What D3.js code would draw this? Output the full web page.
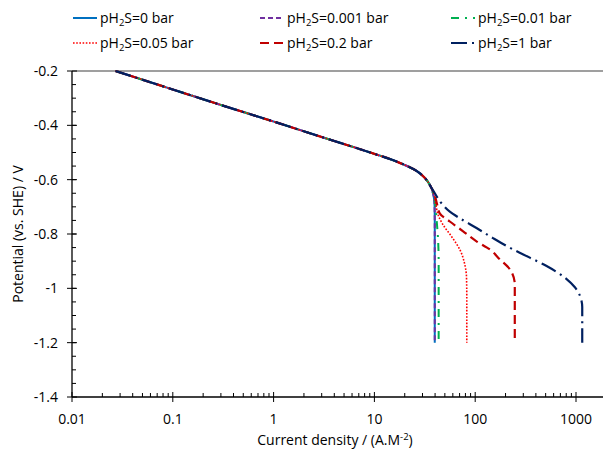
<!DOCTYPE html>
<html>
<head>
<meta charset="utf-8">
<script src="https://cdn.jsdelivr.net/npm/d3@7"></script>
<style>
    body { margin: 0; background: #ffffff; }
    svg { display: block; font-family: "Open Sans", sans-serif; }
</style>
</head>
<body>
<div id="page"></div>
<script>
// cons
const w = 603;
const h = 449;

// axis ticks
const x_ticks = [0.01, 0.1, 1, 10, 100, 1000];
const x_tick_labels = ["0.01", "0.1", "1", "10", "100", "1000"];
const y_ticks = [-1.4, -1.2, -1, -0.8, -0.6, -0.4, -0.2];
const y_tick_labels = ["-1.4", "-1.2", "-1", "-0.8", "-0.6", "-0.4", "-0.2"];

// common tafel part [current density, potential]
const shared_part = [
    [0.027, -0.2], [0.1, -0.268], [0.3, -0.325], [1, -0.386], [3, -0.443],
    [10, -0.505], [15, -0.527], [20, -0.546], [26, -0.567], [31, -0.59],
    [34, -0.608], [36.5, -0.628]
];

// branches below the tafel part
const tail_0 = [[38.5, -0.657], [39.5, -0.69], [39.7, -0.75], [39.7, -1.2]];
const tail_0001 = [[38.5, -0.657], [39.5, -0.69], [39.7, -0.75], [39.7, -1.2]];
const tail_001 = [[38.6, -0.655], [40.2, -0.69], [41.3, -0.742], [42.9, -0.827], [43.4, -0.9], [43.4, -1.2]];
const tail_005 = [
    [38.8, -0.65], [40.5, -0.687], [42.9, -0.73], [48, -0.766], [58.2, -0.809],
    [70.3, -0.857], [78.8, -0.912], [82, -0.96], [82.5, -1.03], [82.5, -1.2]
];
const tail_02 = [
    [38.9, -0.648], [41.5, -0.685], [44.5, -0.724], [56, -0.754], [75.9, -0.79],
    [103, -0.827], [140, -0.857], [175, -0.893], [221, -0.93], [247, -0.985], [247, -1.2]
];
const tail_1 = [
    [39, -0.645], [46.3, -0.687], [56, -0.718], [70.3, -0.742], [103, -0.778],
    [150, -0.815], [238, -0.857], [348, -0.887], [511, -0.918], [807, -0.966],
    [975, -0.996], [1094, -1.027], [1153, -1.069], [1153, -1.2]
];

const series_labels = ["0", "0.001", "0.01", "0.05", "0.2", "1"];
const series_tails = [tail_0, tail_0001, tail_001, tail_005, tail_02, tail_1];

// styles of each series
const series_styles = [
    { color: "#0070C0", width: 2, dash: null },
    { color: "#7030A0", width: 2, dash: "5,3" },
    { color: "#00B050", width: 2, dash: "8,6,2,6" },
    { color: "#FF0000", width: 1.6, dash: "1.6,1.6" },
    { color: "#C00000", width: 2.2, dash: "9,5" },
    { color: "#002060", width: 2.2, dash: "16,5,2,5" }
];

// plot box
const x_left = 72;
const x_right_end = 603;
const y_top = 71;
const y_bottom = 397;

const x = d3.scaleLog().domain([0.01, 1000]).range([x_left, 576]);
const y = d3.scaleLinear().domain([-1.4, -0.2]).range([y_bottom, y_top]);

const svg = d3
    .select("#page")
    .append("svg")
    .attr("width", w)
    .attr("height", h);

// top border line
svg.append("line")
    .attr("x1", x_left).attr("x2", x_right_end)
    .attr("y1", y(-0.2)).attr("y2", y(-0.2))
    .attr("stroke", "#7f7f7f")
    .attr("stroke-width", 1.5);

// minor ticks x (inside)
const x_minor = [];
for (let d = 0.01; d < 1000; d *= 10) {
    for (let k = 2; k <= 9; k++) x_minor.push(d * k);
}
svg.append("g")
    .selectAll("line")
    .data(x_minor)
    .join("line")
    .attr("x1", (d) => x(d)).attr("x2", (d) => x(d))
    .attr("y1", y_bottom - 4).attr("y2", y_bottom)
    .attr("stroke", "#000")
    .attr("stroke-width", 1);

// major ticks x (crossing)
svg.append("g")
    .selectAll("line")
    .data(x_ticks)
    .join("line")
    .attr("x1", (d) => x(d)).attr("x2", (d) => x(d))
    .attr("y1", y_bottom - 5).attr("y2", y_bottom + 5)
    .attr("stroke", "#000")
    .attr("stroke-width", 1);

svg.append("g")
    .selectAll("text")
    .data(x_ticks)
    .join("text")
    .attr("x", (d) => x(d))
    .attr("y", 424)
    .attr("text-anchor", "middle")
    .attr("font-size", 14)
    .attr("fill", "#000")
    .text((d, i) => x_tick_labels[i]);

// minor ticks y (inside)
const y_minor = d3.range(-1.35, -0.2, 0.05).map((v) => +v.toFixed(2));
svg.append("g")
    .selectAll("line")
    .data(y_minor)
    .join("line")
    .attr("x1", x_left).attr("x2", x_left + 4)
    .attr("y1", (d) => y(d)).attr("y2", (d) => y(d))
    .attr("stroke", "#000")
    .attr("stroke-width", 1);

// major ticks y (crossing)
svg.append("g")
    .selectAll("line")
    .data(y_ticks)
    .join("line")
    .attr("x1", x_left - 5).attr("x2", x_left + 5)
    .attr("y1", (d) => y(d)).attr("y2", (d) => y(d))
    .attr("stroke", "#000")
    .attr("stroke-width", 1);

svg.append("g")
    .selectAll("text")
    .data(y_ticks)
    .join("text")
    .attr("x", 58)
    .attr("y", (d) => y(d) + 5)
    .attr("text-anchor", "end")
    .attr("font-size", 14)
    .attr("fill", "#000")
    .text((d, i) => y_tick_labels[i]);

// axis lines
svg.append("line")
    .attr("x1", x_left).attr("x2", x_right_end)
    .attr("y1", y_bottom).attr("y2", y_bottom)
    .attr("stroke", "#000").attr("stroke-width", 1.3);
svg.append("line")
    .attr("x1", x_left).attr("x2", x_left)
    .attr("y1", y_top).attr("y2", y_bottom)
    .attr("stroke", "#000").attr("stroke-width", 1.3);

// axis titles
const x_title = svg.append("text")
    .attr("x", 335)
    .attr("y", 445)
    .attr("text-anchor", "middle")
    .attr("font-size", 14)
    .attr("fill", "#000");
x_title.append("tspan").text("Current density / (A.M");
x_title.append("tspan").attr("font-size", 9.5).attr("dy", -5).text("-2");
x_title.append("tspan").attr("dy", 5).text(")");

svg.append("text")
    .attr("transform", `translate(23, ${(y_top + y_bottom) / 2}) rotate(-90)`)
    .attr("text-anchor", "middle")
    .attr("font-size", 14)
    .attr("fill", "#000")
    .text("Potential (vs. SHE) / V");

// curves
const line_create = d3.line()
    .x((d) => x(d[0]))
    .y((d) => y(d[1]))
    .curve(d3.curveMonotoneY);

series_tails.forEach((tail, i) => {
    const st = series_styles[i];
    svg.append("path")
        .datum(shared_part.concat(tail))
        .attr("fill", "none")
        .attr("stroke", st.color)
        .attr("stroke-width", st.width)
        .attr("stroke-dasharray", st.dash)
        .attr("stroke-linejoin", "round")
        .attr("d", line_create);
});

// legend
const legend_x = [73, 260, 451];
const legend_y = [18, 43];
series_labels.forEach((lab, i) => {
    const st = series_styles[i];
    const lx = legend_x[i % 3];
    const ly = legend_y[Math.floor(i / 3)];
    svg.append("line")
        .attr("x1", lx).attr("x2", lx + 24)
        .attr("y1", ly).attr("y2", ly)
        .attr("stroke", st.color)
        .attr("stroke-width", st.width)
        .attr("stroke-dasharray", st.dash);
    const t = svg.append("text")
        .attr("x", lx + 27)
        .attr("y", ly + 5)
        .attr("font-size", 14)
        .attr("fill", "#000");
    t.append("tspan").text("pH");
    t.append("tspan").attr("font-size", 9.5).attr("dy", 3).text("2");
    t.append("tspan").attr("dy", -3).text("S=" + lab + " bar");
});
</script>
</body>
</html>
